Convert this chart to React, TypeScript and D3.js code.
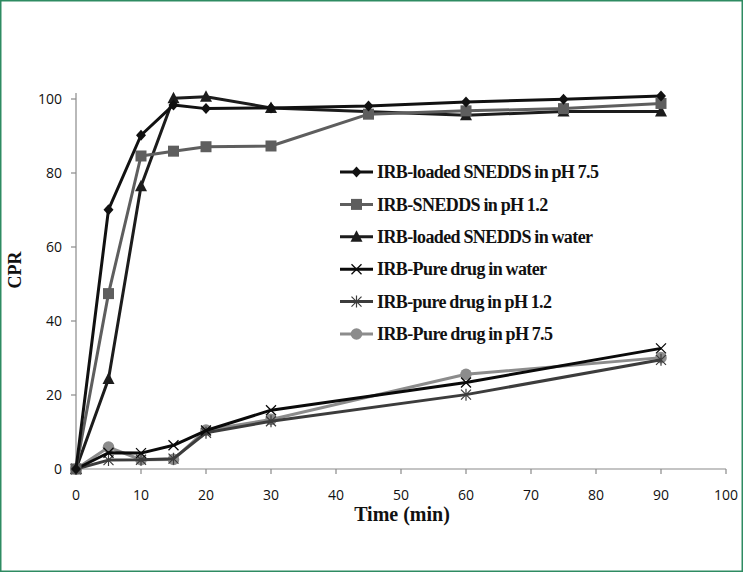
import React from "react";
import * as d3 from "d3";

const seriesNames = [
  "IRB-loaded SNEDDS in pH 7.5",
  "IRB-SNEDDS in pH 1.2",
  "IRB-loaded SNEDDS in water",
  "IRB-Pure drug in water",
  "IRB-pure drug in pH 1.2",
  "IRB-Pure drug in pH 7.5",
];

const timesLoaded75 = [0, 5, 10, 15, 20, 30, 45, 60, 75, 90];
const cprLoaded75 = [0, 70.1, 90.2, 98.4, 97.4, 97.6, 98.1, 99.2, 99.9, 100.8];

const timesSnedds12 = [0, 5, 10, 15, 20, 30, 45, 60, 75, 90];
const cprSnedds12 = [0, 47.4, 84.6, 85.9, 87.1, 87.3, 95.9, 96.8, 97.4, 98.8];

const timesLoadedWater = [0, 5, 10, 15, 20, 30, 60, 75, 90];
const cprLoadedWater = [0, 24.3, 76.4, 100.2, 100.6, 97.6, 95.6, 96.6, 96.6];

const timesPureWater = [0, 5, 10, 15, 20, 30, 60, 90];
const cprPureWater = [0, 4.4, 4.3, 6.4, 10.4, 15.9, 23.4, 32.6];

const timesPure12 = [0, 5, 10, 15, 20, 30, 60, 90];
const cprPure12 = [0, 2.4, 2.5, 2.8, 9.8, 12.9, 20.1, 29.5];

const timesPure75 = [0, 5, 10, 15, 20, 30, 60, 90];
const cprPure75 = [0, 5.9, 2.5, 2.6, 10.5, 13.4, 25.6, 30.1];

const xTicks = [0, 10, 20, 30, 40, 50, 60, 70, 80, 90, 100];
const yTicks = [0, 20, 40, 60, 80, 100];

type Marker = "diamond" | "square" | "triangle" | "x" | "star" | "circle";

const seriesStyle: { color: string; marker: Marker }[] = [
  { color: "#111111", marker: "diamond" },
  { color: "#5e5e5e", marker: "square" },
  { color: "#1c1c1c", marker: "triangle" },
  { color: "#0a0a0a", marker: "x" },
  { color: "#3c3c3c", marker: "star" },
  { color: "#8c8c8c", marker: "circle" },
];

const W = 743;
const H = 572;

const x = d3.scaleLinear().domain([0, 100]).range([76, 726]);
const y = d3.scaleLinear().domain([0, 100]).range([469, 99]);

function MarkerShape({ type, cx, cy, color }: { type: Marker; cx: number; cy: number; color: string }) {
  switch (type) {
    case "diamond":
      return <path d={`M${cx},${cy - 5.5}L${cx + 5},${cy}L${cx},${cy + 5.5}L${cx - 5},${cy}Z`} fill={color} />;
    case "square":
      return <rect x={cx - 5.5} y={cy - 5.5} width={11} height={11} fill={color} />;
    case "triangle":
      return <path d={`M${cx},${cy - 6.5}L${cx + 6},${cy + 5}L${cx - 6},${cy + 5}Z`} fill={color} />;
    case "circle":
      return <circle cx={cx} cy={cy} r={5.8} fill={color} />;
    case "x":
      return (
        <path d={`M${cx - 5},${cy - 5}L${cx + 5},${cy + 5}M${cx - 5},${cy + 5}L${cx + 5},${cy - 5}`} stroke={color} strokeWidth={1.3} />
      );
    case "star":
      return (
        <path
          d={`M${cx - 5},${cy - 5}L${cx + 5},${cy + 5}M${cx - 5},${cy + 5}L${cx + 5},${cy - 5}M${cx},${cy - 6}L${cx},${cy + 6}`}
          stroke={color}
          strokeWidth={1.2}
        />
      );
  }
  return null;
}

export default function App() {
  const allTimes = [timesLoaded75, timesSnedds12, timesLoadedWater, timesPureWater, timesPure12, timesPure75];
  const allVals = [cprLoaded75, cprSnedds12, cprLoadedWater, cprPureWater, cprPure12, cprPure75];
  const line = d3
    .line<[number, number]>()
    .x((d) => x(d[0]))
    .y((d) => y(d[1]));

  const drawOrder = [5, 4, 3, 2, 1, 0];
  const tickFont = "'Open Sans', sans-serif";
  const serif = "'Liberation Serif', 'Times New Roman', serif";
  const legendX = 340;
  const legendY0 = 172;
  const legendDy = 32.4;

  return (
    <svg width={W} height={H} style={{ position: "absolute", left: 0, top: 0, background: "#fff" }}>
      <rect x={0.75} y={0.75} width={W - 1.5} height={H - 1.5} fill="#fff" stroke="#2e8b62" strokeWidth={1.5} />

      {/* axes */}
      <line x1={x(0)} x2={x(0)} y1={y(0)} y2={93} stroke="#8a8a8a" strokeWidth={1.2} />
      <line x1={x(0)} x2={x(100)} y1={y(0)} y2={y(0)} stroke="#8a8a8a" strokeWidth={1.2} />
      {yTicks.map((t) => (
        <g key={"y" + t}>
          <line x1={x(0) - 5} x2={x(0)} y1={y(t)} y2={y(t)} stroke="#8a8a8a" strokeWidth={1.2} />
          <text x={62} y={y(t)} dy="0.36em" textAnchor="end" fontFamily={tickFont} fontSize={14} fill="#111">
            {t}
          </text>
        </g>
      ))}
      {xTicks.map((t) => (
        <g key={"x" + t}>
          <line x1={x(t)} x2={x(t)} y1={y(0)} y2={y(0) + 5} stroke="#8a8a8a" strokeWidth={1.2} />
          <text x={x(t)} y={495} dy="0.36em" textAnchor="middle" fontFamily={tickFont} fontSize={14} fill="#111">
            {t}
          </text>
        </g>
      ))}

      <text x={402} y={514} dy="0.36em" textAnchor="middle" fontFamily={serif} fontWeight="bold" fontSize={20} fill="#111">
        Time (min)
      </text>
      <text
        transform={`translate(15,270) rotate(-90)`}
        dy="0.36em"
        textAnchor="middle"
        fontFamily={serif}
        fontWeight="bold"
        fontSize={18}
        fill="#111"
      >
        CPR
      </text>

      {/* series */}
      {drawOrder.map((i) => {
        const pts: [number, number][] = allTimes[i].map((t, k) => [t, allVals[i][k]]);
        const s = seriesStyle[i];
        return (
          <g key={"s" + i}>
            <path d={line(pts) || ""} fill="none" stroke={s.color} strokeWidth={3} strokeLinejoin="round" />
            {pts.map((p, k) => (
              <MarkerShape key={k} type={s.marker} cx={x(p[0])} cy={y(p[1])} color={s.color} />
            ))}
          </g>
        );
      })}

      {/* legend */}
      {seriesNames.map((name, i) => {
        const ly = legendY0 + i * legendDy;
        const s = seriesStyle[i];
        return (
          <g key={"l" + i}>
            <line x1={legendX} x2={legendX + 33} y1={ly} y2={ly} stroke={s.color} strokeWidth={3} />
            <MarkerShape type={s.marker} cx={legendX + 16.5} cy={ly} color={s.color} />
            <text
              x={legendX + 37}
              y={ly}
              dy="0.34em"
              fontFamily={serif}
              fontWeight="bold"
              fontSize={18}
              letterSpacing={-0.6}
              wordSpacing={-0.5}
              fill="#111"
            >
              {name}
            </text>
          </g>
        );
      })}
    </svg>
  );
}
